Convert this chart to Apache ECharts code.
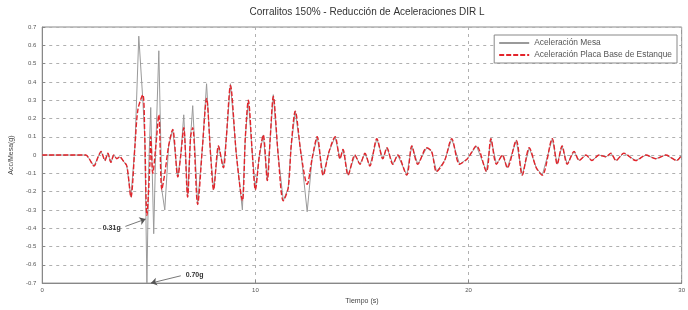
<!DOCTYPE html>
<html lang="es">
<head>
<meta charset="UTF-8">
<script src="https://cdn.jsdelivr.net/npm/echarts@6/dist/echarts.min.js"></script>
<style>
  html, body { margin: 0; padding: 0; background: #ffffff; }
  #main { width: 688px; height: 310px; }
</style>
</head>
<body>
<div id="main"></div>
<script>
// tiempo (s) y aceleracion (g)
var redTime = [0, 2.05, 2.2, 2.43, 2.62, 2.76, 2.94, 3.08, 3.22, 3.36, 3.5, 3.64, 3.79, 3.97, 4.16, 4.35, 4.49, 4.72, 4.81, 4.91,
  5.05, 5.09, 5.19, 5.33, 5.47, 5.61, 5.75, 5.93, 6.12, 6.36, 6.5, 6.64, 6.82, 6.96, 7.06, 7.29, 7.52, 7.71, 7.9, 8.04,
  8.27, 8.5, 8.64, 8.83, 9.11, 9.39, 9.53, 9.67, 9.86, 10.0, 10.19, 10.37, 10.56, 10.7, 10.84, 11.07, 11.31, 11.54, 11.68, 11.87,
  12.15, 12.43, 12.66, 12.9, 13.18, 13.46, 13.74, 13.97, 14.11, 14.35, 14.67, 14.91, 15.14, 15.37, 15.7, 15.98, 16.17, 16.45, 16.68, 17.1,
  17.34, 17.62, 18.04, 18.27, 18.5, 18.88, 19.21, 19.58, 19.95, 20.37, 20.84, 21.05, 21.31, 21.59, 21.82, 22.24, 22.52, 22.85, 23.18, 23.46,
  23.93, 24.16, 24.39, 24.63, 24.95, 25.19, 25.51, 25.79, 26.12, 26.45, 26.68, 26.92, 27.29, 27.85, 28.32, 28.79, 29.25, 29.77, 30.0];
var redAcc = [0, 0, -0.02, -0.06, -0.01, 0.02, -0.03, 0.01, -0.04, 0.0, -0.02, -0.01, -0.03, -0.06, -0.23, 0.05, 0.25, 0.33, 0.1, -0.33,
  -0.05, 0.1, -0.1, 0.05, 0.22, -0.19, -0.1, 0.05, 0.14, -0.12, 0.0, 0.15, -0.23, 0.1, 0.15, -0.27, 0.05, 0.31, 0.0, -0.19,
  0.05, -0.07, 0.1, 0.38, 0.0, -0.25, 0.1, 0.3, 0.0, -0.19, 0.0, 0.11, -0.14, 0.1, 0.32, 0.0, -0.25, -0.18, 0.05, 0.24,
  0.0, -0.16, -0.02, 0.1, -0.11, 0.02, 0.1, -0.02, 0.03, -0.11, 0.0, -0.05, 0.01, -0.06, 0.09, -0.02, 0.04, -0.05, 0.0, -0.11,
  0.05, -0.05, 0.04, 0.02, -0.09, -0.03, 0.09, -0.05, -0.02, 0.05, -0.09, 0.09, -0.05, 0.0, -0.07, 0.08, -0.11, 0.04, -0.07, -0.11,
  0.09, -0.05, 0.05, -0.05, 0.02, -0.03, 0.0, -0.03, 0.0, -0.01, 0.01, -0.03, 0.01, -0.03, 0.0, -0.02, 0.0, -0.03, 0.0];

var grayTime = [0, 2.05, 2.2, 2.43, 2.62, 2.76, 2.94, 3.08, 3.22, 3.36, 3.5, 3.64, 3.79, 3.97, 4.16, 4.35, 4.53, 4.72, 4.81, 4.91,
  5.0, 5.09, 5.23, 5.33, 5.47, 5.61, 5.75, 5.93, 6.12, 6.36, 6.5, 6.64, 6.82, 6.96, 7.06, 7.29, 7.52, 7.71, 7.9, 8.04,
  8.27, 8.5, 8.64, 8.83, 9.11, 9.39, 9.53, 9.67, 9.86, 10.0, 10.19, 10.37, 10.56, 10.7, 10.84, 11.07, 11.31, 11.54, 11.68, 11.87,
  12.15, 12.43, 12.66, 12.9, 13.18, 13.46, 13.74, 13.97, 14.11, 14.35, 14.67, 14.91, 15.14, 15.37, 15.7, 15.98, 16.17, 16.45, 16.68, 17.1,
  17.34, 17.62, 18.04, 18.27, 18.5, 18.88, 19.21, 19.58, 19.95, 20.37, 20.84, 21.05, 21.31, 21.59, 21.82, 22.24, 22.52, 22.85, 23.18, 23.46,
  23.93, 24.16, 24.39, 24.63, 24.95, 25.19, 25.51, 25.79, 26.12, 26.45, 26.68, 26.92, 27.29, 27.85, 28.32, 28.79, 29.25, 29.77, 30.0];
var grayAcc = [0, 0, -0.02, -0.06, -0.01, 0.02, -0.03, 0.01, -0.04, 0.0, -0.02, -0.01, -0.03, -0.06, -0.23, 0.05, 0.65, 0.3, 0.1, -0.7,
  -0.05, 0.26, -0.43, 0.05, 0.57, -0.19, -0.3, 0.05, 0.14, -0.12, 0.0, 0.22, -0.23, 0.1, 0.27, -0.27, 0.05, 0.39, 0.0, -0.19,
  0.05, -0.07, 0.1, 0.39, 0.0, -0.3, 0.1, 0.3, 0.0, -0.19, 0.0, 0.11, -0.14, 0.1, 0.33, 0.0, -0.25, -0.18, 0.05, 0.24,
  0.0, -0.31, -0.02, 0.1, -0.11, 0.02, 0.1, -0.02, 0.03, -0.11, 0.0, -0.05, 0.01, -0.06, 0.09, -0.02, 0.04, -0.05, 0.0, -0.11,
  0.05, -0.05, 0.04, 0.02, -0.09, -0.03, 0.09, -0.05, -0.02, 0.05, -0.09, 0.09, -0.05, 0.0, -0.07, 0.08, -0.11, 0.04, -0.07, -0.11,
  0.09, -0.05, 0.05, -0.05, 0.02, -0.03, 0.0, -0.03, 0.0, -0.01, 0.01, -0.03, 0.01, -0.03, 0.0, -0.02, 0.0, -0.03, 0.0];

var xTicks = [0, 10, 20, 30];
var seriesNames = ['Aceleración Mesa', 'Aceleración Placa Base de Estanque'];

function pairs(t, v) {
  return t.map(function (x, i) { return [x, v[i]]; });
}

var myChart = echarts.init(document.getElementById('main'));
var gridColor = '#b0b0b0';

myChart.setOption({
  animation: false,
  backgroundColor: '#ffffff',
  title: {
    text: 'Corralitos 150% - Reducción de Aceleraciones DIR L',
    left: 362, top: 2, textAlign: 'center',
    textStyle: { fontFamily: 'Arial', fontSize: 10, fontWeight: 'normal', color: '#333' }
  },
  legend: {
    data: seriesNames,
    orient: 'vertical',
    right: 11, top: 35,
    itemWidth: 30, itemHeight: 6, itemGap: 4,
    padding: [4, 5, 4, 4],
    backgroundColor: '#fff',
    borderColor: '#888', borderWidth: 1,
    itemStyle: { opacity: 0 },
    textStyle: { fontFamily: 'Arial', fontSize: 8.4, color: '#555' }
  },
  grid: { left: 41, right: 5, top: 27, bottom: 23, show: true, borderColor: '#888', borderWidth: 1, backgroundColor: 'transparent' },
  xAxis: {
    type: 'value', min: 0, max: 30, interval: 10,
    name: 'Tiempo (s)', nameLocation: 'middle', nameGap: 14,
    nameTextStyle: { fontFamily: 'Arial', fontSize: 7, color: '#444' },
    axisLine: { onZero: false, lineStyle: { color: '#888' } },
    axisTick: { inside: true, length: 3, lineStyle: { color: '#888' } },
    axisLabel: { fontFamily: 'Arial', fontSize: 6, color: '#555', margin: 4,
      formatter: function (v) { return xTicks.indexOf(v) >= 0 ? String(v) : ''; } },
    splitLine: { show: true, lineStyle: { color: gridColor, type: [3, 4] } }
  },
  yAxis: {
    type: 'value', min: -0.7, max: 0.7, interval: 0.1,
    name: 'Acc/Mesa(g)', nameLocation: 'middle', nameGap: 26,
    nameTextStyle: { fontFamily: 'Arial', fontSize: 7, color: '#444' },
    axisLine: { show: true, lineStyle: { color: '#888' } },
    axisTick: { inside: true, length: 3, lineStyle: { color: '#888' } },
    axisLabel: { fontFamily: 'Arial', fontSize: 6, color: '#555', margin: 6,
      formatter: function (v) { var r = Math.round(v * 10) / 10; return r === 0 ? '0' : r.toFixed(1); } },
    splitLine: { show: true, lineStyle: { color: gridColor, type: [3, 4] } }
  },
  series: [
    {
      name: seriesNames[0], type: 'line', data: pairs(grayTime, grayAcc),
      showSymbol: false, symbol: 'none', smooth: false,
      lineStyle: { color: '#9a9a9a', width: 1 },
      itemStyle: { color: '#9a9a9a' },
      markLine: {
        silent: true, symbol: ['none', 'arrow'], symbolSize: 6,
        lineStyle: { color: '#555', width: 0.8, type: 'solid' },
        label: { show: true, position: 'start', fontFamily: 'Arial', fontSize: 7, fontWeight: 'bold', color: '#333',
          formatter: function (p) { return p.name; } },
        data: [
          [{ name: '0.31g', coord: [3.9, -0.39] }, { coord: [4.85, -0.35] }],
          [{ name: '0.70g', coord: [6.5, -0.66] }, { coord: [5.1, -0.7] }]
        ]
      }
    },
    {
      name: seriesNames[1], type: 'line', data: pairs(redTime, redAcc),
      showSymbol: false, symbol: 'none', smooth: 0.3,
      lineStyle: { color: '#e3242b', width: 1.4, type: [5, 2] },
      itemStyle: { color: '#e3242b' }
    }
  ]
});
</script>
</body>
</html>
